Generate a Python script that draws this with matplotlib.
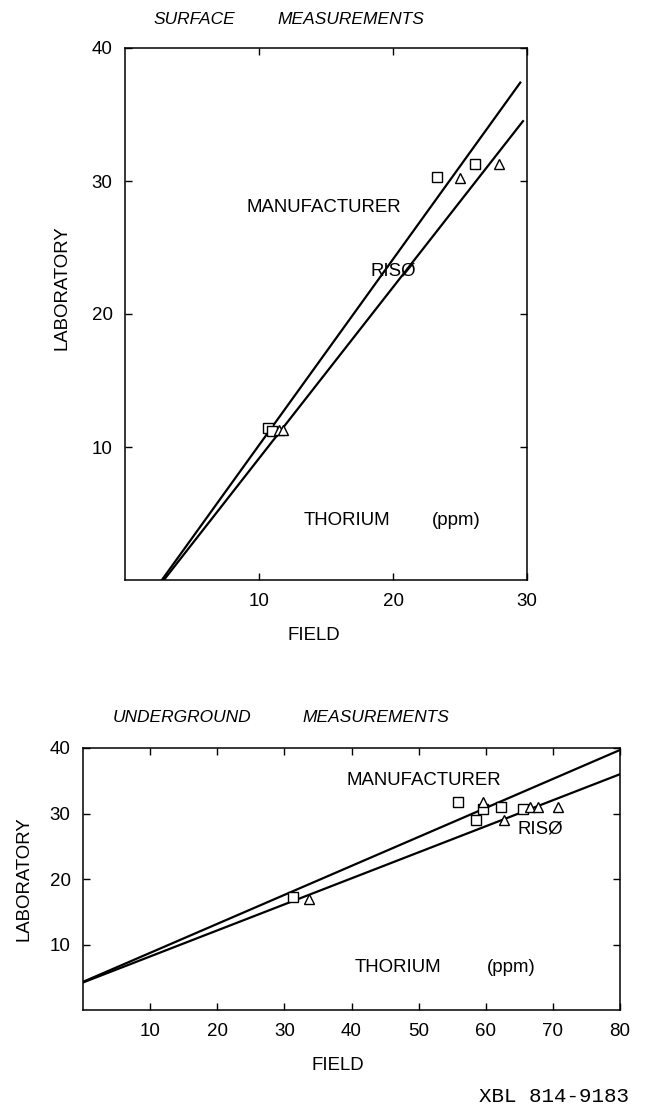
import matplotlib.pyplot as plt

plt.rcParams['font.family'] = ['Liberation Sans', 'DejaVu Sans']

W, H = 645, 1112

# surface measurements (thorium, ppm)
surf_man_x = [10.7, 11.0, 23.3, 26.1]
surf_man_y = [11.4, 11.2, 30.3, 31.3]
surf_ris_x = [11.5, 11.8, 25.0, 27.9]
surf_ris_y = [11.3, 11.3, 30.2, 31.3]
surf_man_fit_x = [2.75, 29.5]
surf_man_fit_y = [0.0, 37.4]
surf_ris_fit_x = [2.9, 29.7]
surf_ris_fit_y = [0.0, 34.5]

# underground measurements
ug_man_x = [31.3, 55.9, 59.6, 58.6, 62.3, 65.6]
ug_man_y = [17.2, 31.8, 30.7, 29.0, 31.0, 30.7]
ug_ris_x = [33.6, 59.6, 62.7, 66.6, 67.8, 70.8]
ug_ris_y = [17.0, 31.8, 29.0, 31.0, 31.0, 31.0]
ug_man_fit_x = [0, 80]
ug_man_fit_y = [4.3, 39.7]
ug_ris_fit_x = [0, 80]
ug_ris_fit_y = [4.2, 36.0]

surf_xticks = [10, 20, 30]
ug_xticks = [10, 20, 30, 40, 50, 60, 70, 80]
yticks = [10, 20, 30, 40]

fig = plt.figure(figsize=(W / 100, H / 100), dpi=100)


def px(x, y):
    return x / W, 1 - y / H


def style(ax, xticks):
    ax.set_xticks(xticks)
    ax.set_yticks(yticks)
    ax.set_xticklabels([str(t) for t in xticks])
    ax.set_yticklabels([str(t) for t in yticks])
    ax.tick_params(direction='in', length=5, width=1, top=True, right=True,
                   labelsize=13.5, pad=9)
    for s in ax.spines.values():
        s.set_linewidth(1.1)


def draw(ax, mx, my, rx, ry, mfx, mfy, rfx, rfy):
    ax.plot(mfx, mfy, color='k', lw=1.6)
    ax.plot(rfx, rfy, color='k', lw=1.6)
    ax.plot(mx, my, 's', mfc='white', mec='k', mew=1.0, ms=7, ls='none')
    ax.plot(rx, ry, '^', mfc='white', mec='k', mew=1.0, ms=7.5, ls='none')


# top panel
ax1 = fig.add_axes([125 / W, 1 - 580 / H, 402 / W, 532 / H])
draw(ax1, surf_man_x, surf_man_y, surf_ris_x, surf_ris_y,
     surf_man_fit_x, surf_man_fit_y, surf_ris_fit_x, surf_ris_fit_y)
ax1.set_xlim(0, 30)
ax1.set_ylim(0, 40)
style(ax1, surf_xticks)
ax1.text(9.1, 28.0, 'MANUFACTURER', fontsize=13.4, va='center')
ax1.text(18.3, 23.2, 'RISØ', fontsize=13.4, va='center')
ax1.text(13.3, 4.5, 'THORIUM', fontsize=13.4, va='center')
ax1.text(22.9, 4.5, '(ppm)', fontsize=13.4, va='center')

fig.text(*px(153, 19), 'SURFACE', style='italic', fontsize=12.5, va='center')
fig.text(*px(277, 19), 'MEASUREMENTS', style='italic', fontsize=12.5, va='center')
fig.text(*px(314, 635), 'FIELD', fontsize=13.4, ha='center', va='center')
fig.text(*px(62, 288), 'LABORATORY', fontsize=13.4, ha='center', va='center',
         rotation=90)

# bottom panel
ax2 = fig.add_axes([83 / W, 1 - 1010 / H, 537 / W, 262 / H])
draw(ax2, ug_man_x, ug_man_y, ug_ris_x, ug_ris_y,
     ug_man_fit_x, ug_man_fit_y, ug_ris_fit_x, ug_ris_fit_y)
ax2.set_xlim(0, 80)
ax2.set_ylim(0, 40)
style(ax2, ug_xticks)
ax2.text(39.2, 35.1, 'MANUFACTURER', fontsize=13.4, va='center')
ax2.text(64.7, 27.7, 'RISØ', fontsize=13.4, va='center')
ax2.text(40.5, 6.5, 'THORIUM', fontsize=13.4, va='center')
ax2.text(60.1, 6.5, '(ppm)', fontsize=13.4, va='center')

fig.text(*px(113, 718), 'UNDERGROUND', style='italic', fontsize=12.5, va='center')
fig.text(*px(302, 718), 'MEASUREMENTS', style='italic', fontsize=12.5, va='center')
fig.text(*px(338, 1066), 'FIELD', fontsize=13.4, ha='center', va='center')
fig.text(*px(24, 879), 'LABORATORY', fontsize=13.4, ha='center', va='center',
         rotation=90)
fig.text(*px(629, 1097), 'XBL 814-9183', family='Liberation Mono',
         fontsize=15, ha='right', va='center')

fig.savefig('out.png', dpi=100)
